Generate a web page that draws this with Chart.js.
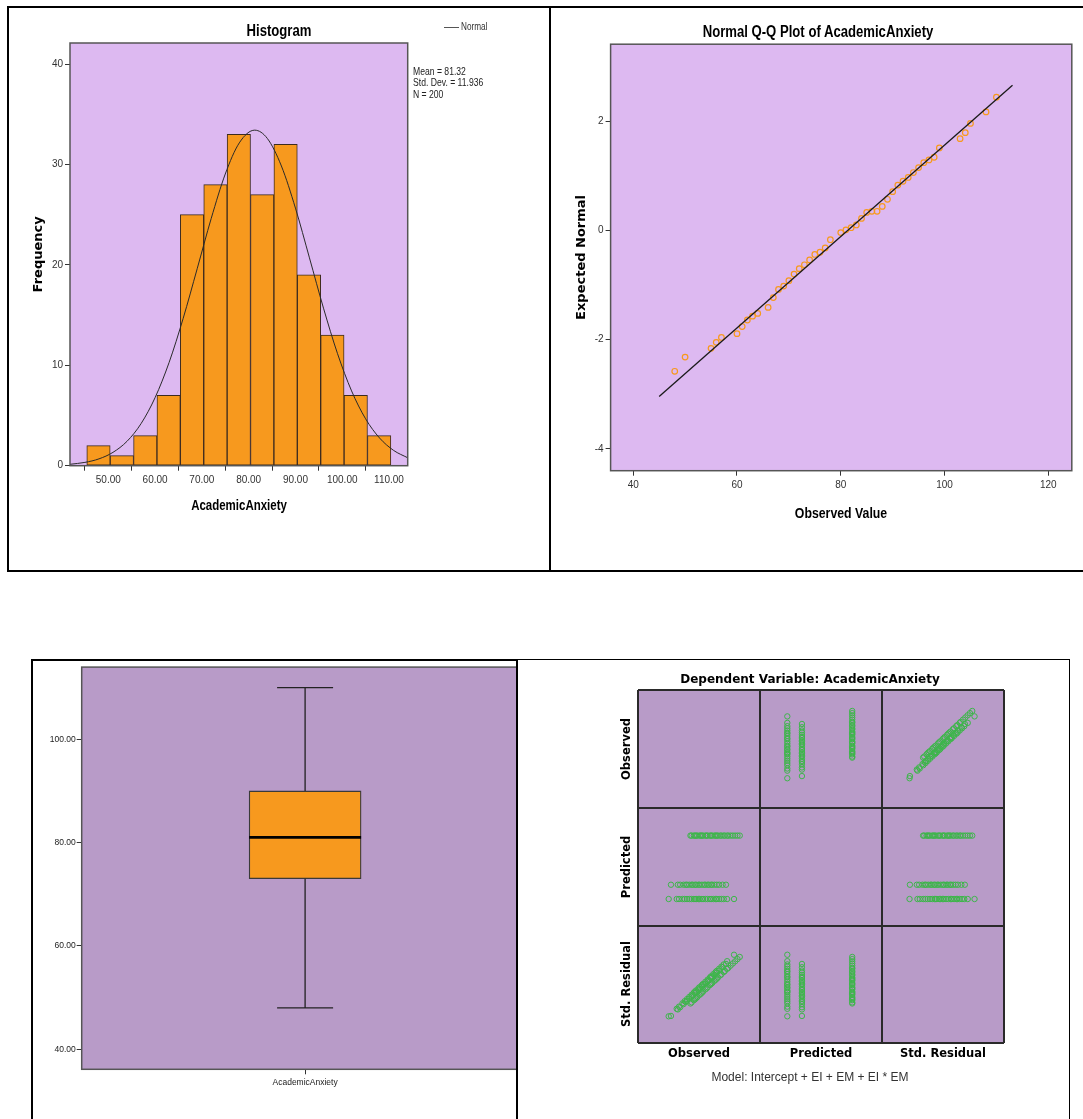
<!DOCTYPE html>
<html>
<head>
<meta charset="utf-8">
<title>AcademicAnxiety</title>
<script src="https://cdn.jsdelivr.net/npm/chart.js@4.4.1/dist/chart.umd.min.js"></script>
<style>
  body { margin: 0; background: #fff; }
  #page { position: relative; width: 1083px; height: 1119px; overflow: hidden; background: #fff; }
  .ln { position: absolute; background: #000; }
  .txt { position: absolute; white-space: nowrap; line-height: 1; color: #000; transform: translate(-50%, -50%); }
  .narrow { font-family: 'Liberation Sans', Arial, sans-serif; transform: translate(-50%, -50%) scaleX(0.82); }
  .dv { font-family: 'DejaVu Sans', sans-serif; font-weight: bold; }
  canvas { position: absolute; }
  .cell { position: absolute; background: #b89bc8; }
</style>
</head>
<body>
<div id="page">
  <!-- frames -->
  <div class="ln" style="left:7px;top:6px;width:1076px;height:2px"></div>
  <div class="ln" style="left:7px;top:6px;width:2px;height:566px"></div>
  <div class="ln" style="left:7px;top:570px;width:1076px;height:2px"></div>
  <div class="ln" style="left:549px;top:6px;width:2px;height:566px"></div>
  <div class="ln" style="left:31px;top:659px;width:485px;height:2px"></div>
  <div class="ln" style="left:31px;top:659px;width:2px;height:460px"></div>

  <!-- histogram -->
  <canvas id="histChart" width="540" height="560" style="left:8px;top:8px"></canvas>
  <div class="txt narrow" style="left:279px;top:31px;font-size:16px;font-weight:bold">Histogram</div>
  <div class="txt narrow" style="left:239px;top:505px;font-size:14px;font-weight:bold">AcademicAnxiety</div>
  <div class="ln" style="left:444px;top:27px;width:15px;height:1px;background:#555"></div>
  <div class="txt" style="left:461px;top:27px;font-size:10px;color:#333;font-family:'Liberation Sans',sans-serif;transform:translate(0,-50%) scaleX(0.82);transform-origin:left center">Normal</div>
  <div style="position:absolute;left:413px;top:66px;font-family:'Liberation Sans',sans-serif;font-size:10.5px;line-height:11.3px;color:#222;white-space:nowrap;transform:scaleX(0.82);transform-origin:left top">Mean = 81.32<br>Std. Dev. = 11.936<br>N = 200</div>

  <!-- Q-Q plot -->
  <canvas id="qqChart" width="530" height="560" style="left:552px;top:8px"></canvas>
  <div class="txt narrow" style="left:818px;top:32px;font-size:16px;font-weight:bold">Normal Q-Q Plot of AcademicAnxiety</div>
  <div class="txt narrow" style="left:841px;top:512px;font-size:15px;font-weight:bold">Observed Value</div>

  <!-- boxplot -->
  <canvas id="boxChart" width="500" height="458" style="left:33px;top:661px"></canvas>

  <!-- scatter matrix panel -->
  <div style="position:absolute;left:516px;top:659px;width:551px;height:470px;background:#fff;border-left:2px solid #000;border-top:1.5px solid #000;border-right:1.5px solid #000"></div>
  <div id="matrix" style="position:absolute;left:638px;top:690px;width:366px;height:353px"></div>
  <div class="txt dv" style="left:810px;top:679px;font-size:12px">Dependent Variable: AcademicAnxiety</div>
  <div class="txt dv" style="left:627px;top:749px;font-size:11.5px;transform:translate(-50%,-50%) rotate(-90deg)">Observed</div>
  <div class="txt dv" style="left:627px;top:867px;font-size:11.5px;transform:translate(-50%,-50%) rotate(-90deg)">Predicted</div>
  <div class="txt dv" style="left:627px;top:984px;font-size:11.5px;transform:translate(-50%,-50%) rotate(-90deg)">Std. Residual</div>
  <div class="txt dv" style="left:699px;top:1054px;font-size:11.5px">Observed</div>
  <div class="txt dv" style="left:821px;top:1054px;font-size:11.5px">Predicted</div>
  <div class="txt dv" style="left:943px;top:1054px;font-size:11.5px">Std. Residual</div>
  <div class="txt" style="left:810px;top:1077px;font-size:12px;font-family:'Liberation Sans',sans-serif;color:#333">Model: Intercept + EI + EM + EI * EM</div>
</div>

<script>
// ---- histogram ----
const binCenters = [47.9, 52.9, 57.9, 62.9, 67.9, 72.9, 77.9, 82.9, 87.9, 92.9, 97.9, 102.9, 107.9];
const binCounts = [2, 1, 3, 7, 25, 28, 33, 27, 32, 19, 13, 7, 3];
const normalX = [41.8, 45, 48, 51, 54, 57, 60, 63, 66, 69, 72, 75, 78, 81.3, 84, 87, 90, 93, 96, 99, 102, 105, 108, 111, 114];
const normalY = [0.14, 0.33, 0.68, 1.33, 2.43, 4.19, 6.78, 10.29, 14.67, 19.62, 24.63, 29.05, 32.15, 33.42, 32.59, 29.85, 25.66, 20.7, 15.69, 11.16, 7.45, 4.67, 2.75, 1.52, 0.79];
const histTicksX = [50, 60, 70, 80, 90, 100, 110];
const histTicksY = [0, 10, 20, 30, 40];

// ---- normal Q-Q ----
const qqObserved = [48, 50, 55, 56, 57, 60, 61, 62, 63, 64, 66, 67, 68, 69, 70, 71, 72, 73, 74, 75, 76, 77, 78, 80, 81, 82, 83, 84, 85, 86, 87, 88, 89, 90, 91, 92, 93, 94, 95, 96, 97, 98, 99, 103, 104, 105, 108, 110];
const qqExpected = [-2.58, -2.32, -2.16, -2.05, -1.96, -1.89, -1.76, -1.64, -1.57, -1.52, -1.41, -1.23, -1.08, -1.02, -0.92, -0.8, -0.7, -0.63, -0.54, -0.44, -0.4, -0.32, -0.17, -0.04, 0.01, 0.05, 0.1, 0.22, 0.33, 0.35, 0.35, 0.44, 0.57, 0.71, 0.83, 0.9, 0.97, 1.06, 1.15, 1.24, 1.29, 1.34, 1.51, 1.68, 1.79, 1.96, 2.17, 2.44];
const qqLineX = [45.0, 113.1];
const qqLineY = [-3.04, 2.66];
const qqTicksX = [40, 60, 80, 100, 120];
const qqTicksY = [-4, -2, 0, 2];

// ---- boxplot ----
const boxLabels = ['AcademicAnxiety'];
const boxMin = [48];
const boxQ1 = [73];
const boxMedian = [81];
const boxQ3 = [90];
const boxMax = [110];
const boxTicksY = [40, 60, 80, 100];

// ---- observed / predicted / residual matrix ----
const matrixVars = ['Observed', 'Predicted', 'Std. Residual'];
const predLevels = [76.5, 78.1, 83.6];
const obsGroup1 = [48, 55, 57, 60, 62, 64, 66, 68, 70, 71, 72, 74, 75, 77, 78, 80, 82, 84, 85, 87, 89, 90, 92, 94, 96, 99, 105];
const resGroup1 = [-2.54, -1.92, -1.74, -1.47, -1.29, -1.12, -0.94, -0.76, -0.58, -0.49, -0.4, -0.22, -0.13, 0.04, 0.13, 0.31, 0.49, 0.67, 0.76, 0.94, 1.12, 1.21, 1.38, 1.56, 1.74, 2.01, 2.54];
const obsGroup2 = [50, 56, 58, 61, 63, 64, 66, 68, 69, 71, 72, 74, 75, 77, 79, 80, 82, 83, 85, 86, 88, 90, 92, 95, 98];
const resGroup2 = [-2.51, -1.97, -1.79, -1.53, -1.35, -1.26, -1.08, -0.9, -0.81, -0.63, -0.54, -0.37, -0.28, -0.1, 0.08, 0.17, 0.35, 0.44, 0.62, 0.71, 0.88, 1.06, 1.24, 1.51, 1.78];
const obsGroup3 = [67, 68, 70, 71, 72, 73, 75, 76, 77, 78, 80, 81, 82, 84, 85, 86, 88, 89, 90, 91, 93, 94, 96, 97, 99, 100, 102, 104, 106, 108, 110];
const resGroup3 = [-1.48, -1.39, -1.21, -1.13, -1.04, -0.95, -0.77, -0.68, -0.59, -0.5, -0.32, -0.23, -0.14, 0.04, 0.13, 0.21, 0.39, 0.48, 0.57, 0.66, 0.84, 0.93, 1.11, 1.2, 1.38, 1.46, 1.64, 1.82, 2.0, 2.18, 2.36];

const SANS = "'Liberation Sans', Arial, sans-serif";
const ORANGE = '#f7991e';
const LAVENDER = '#ddb9f1';
const PURPLE = '#b89bc8';
const GREEN = '#3db54a';

// fills the plot area and draws its frame
const plotFrame = {
  id: 'plotFrame',
  beforeDraw(chart, args, opts) {
    const a = chart.chartArea, ctx = chart.ctx;
    ctx.save();
    ctx.fillStyle = opts.color;
    ctx.fillRect(a.left, a.top, a.right - a.left, a.bottom - a.top);
    ctx.restore();
  },
  afterDraw(chart, args, opts) {
    const a = chart.chartArea, ctx = chart.ctx;
    ctx.save();
    ctx.strokeStyle = opts.border;
    ctx.lineWidth = 1.5;
    ctx.strokeRect(a.left, a.top, a.right - a.left, a.bottom - a.top);
    ctx.restore();
  }
};

function fixWidth(w) { return function (s) { s.width = w; }; }
function fixHeight(h) { return function (s) { s.height = h; }; }
function setTicks(list) { return function (s) { s.ticks = list.map(v => ({ value: v })); }; }

const tickGrid = { drawOnChartArea: false, drawTicks: true, tickLength: 5, color: '#333', lineWidth: 1 };

// ---------- histogram ----------
new Chart(document.getElementById('histChart'), {
  type: 'bar',
  data: {
    datasets: [{
      type: 'line',
      label: 'Normal',
      data: normalX.map((x, i) => ({ x: x, y: normalY[i] })),
      borderColor: '#2a2a2a',
      borderWidth: 1,
      pointRadius: 0,
      cubicInterpolationMode: 'monotone',
      order: 0
    }, {
      label: 'Frequency',
      data: binCenters.map((x, i) => ({ x: x, y: binCounts[i] })),
      backgroundColor: ORANGE,
      borderColor: '#3d2b1f',
      borderWidth: 1,
      borderSkipped: false,
      barPercentage: 1,
      categoryPercentage: 1,
      order: 1
    }]
  },
  options: {
    responsive: false,
    animation: false,
    layout: { padding: { top: 35, right: 140.3, bottom: 50.6, left: 19 } },
    plugins: { legend: { display: false }, tooltip: { enabled: false }, plotFrame: { color: LAVENDER, border: '#555' } },
    scales: {
      x: {
        type: 'linear', min: 41.81, max: 114, offset: false,
        afterFit: fixHeight(51.7), afterBuildTicks: setTicks(histTicksX),
        grid: tickGrid, border: { display: false },
        ticks: { color: '#333', font: { family: SANS, size: 10 }, padding: 4, maxRotation: 0, autoSkip: false, callback: v => v.toFixed(2) }
      },
      y: {
        min: 0, max: 42.1,
        afterFit: fixWidth(43), afterBuildTicks: setTicks(histTicksY),
        grid: tickGrid, border: { display: false },
        ticks: { color: '#333', font: { family: SANS, size: 10 }, padding: 2 },
        title: { display: true, text: 'Frequency', color: '#000', font: { family: 'DejaVu Sans', size: 13, weight: 'bold' } }
      }
    }
  },
  plugins: [plotFrame]
});

// ---------- Q-Q plot ----------
new Chart(document.getElementById('qqChart'), {
  type: 'scatter',
  data: {
    datasets: [{
      type: 'line',
      data: qqLineX.map((x, i) => ({ x: x, y: qqLineY[i] })),
      borderColor: '#1a1a1a',
      borderWidth: 1.3,
      pointRadius: 0
    }, {
      data: qqObserved.map((x, i) => ({ x: x, y: qqExpected[i] })),
      borderColor: ORANGE,
      backgroundColor: 'rgba(0,0,0,0)',
      borderWidth: 1.2,
      pointRadius: 2.8
    }]
  },
  options: {
    responsive: false,
    animation: false,
    layout: { padding: { top: 36.2, right: 10.2, bottom: 42.5, left: 18 } },
    plugins: { legend: { display: false }, tooltip: { enabled: false }, plotFrame: { color: LAVENDER, border: '#555' } },
    scales: {
      x: {
        type: 'linear', min: 35.64, max: 124.53,
        afterFit: fixHeight(54.8), afterBuildTicks: setTicks(qqTicksX),
        grid: tickGrid, border: { display: false },
        ticks: { color: '#333', font: { family: SANS, size: 10 }, padding: 4, maxRotation: 0, autoSkip: false }
      },
      y: {
        min: -4.4, max: 3.41,
        afterFit: fixWidth(40.6), afterBuildTicks: setTicks(qqTicksY),
        grid: tickGrid, border: { display: false },
        ticks: { color: '#333', font: { family: SANS, size: 10 }, padding: 2 },
        title: { display: true, text: 'Expected Normal', color: '#000', font: { family: 'DejaVu Sans', size: 13, weight: 'bold' } }
      }
    }
  },
  plugins: [plotFrame]
});

// ---------- boxplot ----------
const whiskers = {
  id: 'whiskers',
  afterDatasetsDraw(chart) {
    const y = chart.scales.y, ctx = chart.ctx;
    chart.getDatasetMeta(0).data.forEach((bar, i) => {
      const cx = bar.x, half = bar.width / 2, cap = bar.width / 4;
      const yMax = y.getPixelForValue(boxMax[i]), yMin = y.getPixelForValue(boxMin[i]);
      ctx.save();
      ctx.strokeStyle = '#222';
      ctx.lineWidth = 1.3;
      ctx.beginPath();
      ctx.moveTo(cx, yMax); ctx.lineTo(cx, y.getPixelForValue(boxQ3[i]));
      ctx.moveTo(cx, y.getPixelForValue(boxQ1[i])); ctx.lineTo(cx, yMin);
      ctx.moveTo(cx - cap, yMax); ctx.lineTo(cx + cap, yMax);
      ctx.moveTo(cx - cap, yMin); ctx.lineTo(cx + cap, yMin);
      ctx.stroke();
      ctx.strokeStyle = '#000';
      ctx.lineWidth = 2.6;
      ctx.beginPath();
      const ym = y.getPixelForValue(boxMedian[i]);
      ctx.moveTo(cx - half, ym); ctx.lineTo(cx + half, ym);
      ctx.stroke();
      ctx.restore();
    });
  }
};

new Chart(document.getElementById('boxChart'), {
  type: 'bar',
  data: {
    labels: boxLabels,
    datasets: [{
      data: boxLabels.map((l, i) => [boxQ1[i], boxQ3[i]]),
      backgroundColor: ORANGE,
      borderColor: '#3a3a3a',
      borderWidth: 1.3,
      borderSkipped: false,
      barThickness: 112
    }]
  },
  options: {
    responsive: false,
    animation: false,
    layout: { padding: { top: 3, right: 4.5, bottom: 9.7, left: 0 } },
    plugins: { legend: { display: false }, tooltip: { enabled: false }, plotFrame: { color: PURPLE, border: '#555' } },
    scales: {
      x: {
        afterFit: fixHeight(40),
        grid: Object.assign({}, tickGrid, { offset: false }), border: { display: false },
        ticks: { color: '#222', font: { family: SANS, size: 8.5 }, padding: 3, maxRotation: 0 }
      },
      y: {
        min: 36.1, max: 113.97,
        afterFit: fixWidth(48.7), afterBuildTicks: setTicks(boxTicksY),
        grid: tickGrid, border: { display: false },
        ticks: { color: '#222', font: { family: SANS, size: 8.5 }, padding: 1, callback: v => v.toFixed(2) }
      }
    }
  },
  plugins: [plotFrame, whiskers]
});

// ---------- scatter matrix ----------
const groupsObs = [obsGroup1, obsGroup2, obsGroup3];
const groupsRes = [resGroup1, resGroup2, resGroup3];
const matrixRows = [];
groupsObs.forEach((list, g) => list.forEach((o, i) => matrixRows.push([o, predLevels[g], groupsRes[g][i]])));

const rangeX = [[25.6, 123.3], [74.06, 86.31], [-4.3, 4.45]];
const rangeY = [[25.2, 124.7], [74.04, 86.13], [-4.33, 4.5]];
const colEdges = [0, 122, 244, 366];
const rowEdges = [0, 118, 236, 353];
const matrix = document.getElementById('matrix');

for (let r = 0; r < 3; r++) {
  for (let c = 0; c < 3; c++) {
    const cell = document.createElement('div');
    cell.className = 'cell';
    const w = colEdges[c + 1] - colEdges[c], h = rowEdges[r + 1] - rowEdges[r];
    cell.style.left = colEdges[c] + 'px';
    cell.style.top = rowEdges[r] + 'px';
    cell.style.width = w + 'px';
    cell.style.height = h + 'px';
    matrix.appendChild(cell);
    if (r === c) continue;
    const cv = document.createElement('canvas');
    cv.width = w; cv.height = h;
    cv.style.left = '0px'; cv.style.top = '0px';
    cell.appendChild(cv);
    new Chart(cv, {
      type: 'scatter',
      data: {
        datasets: [{
          label: matrixVars[r] + ' vs ' + matrixVars[c],
          data: matrixRows.map(row => ({ x: row[c], y: row[r] })),
          borderColor: GREEN,
          backgroundColor: 'rgba(0,0,0,0)',
          borderWidth: 1,
          pointRadius: 2.7
        }]
      },
      options: {
        responsive: false,
        animation: false,
        layout: { padding: 0 },
        plugins: { legend: { display: false }, tooltip: { enabled: false } },
        scales: {
          x: { type: 'linear', display: false, min: rangeX[c][0], max: rangeX[c][1] },
          y: { type: 'linear', display: false, min: rangeY[r][0], max: rangeY[r][1] }
        }
      }
    });
  }
}

// grid lines of the matrix
[0, 1, 2, 3].forEach(i => {
  const v = document.createElement('div');
  v.className = 'ln';
  v.style.cssText = 'left:' + (colEdges[i] - 0.75) + 'px;top:0;width:1.5px;height:353px;background:#2a2a2a';
  matrix.appendChild(v);
  const hz = document.createElement('div');
  hz.className = 'ln';
  hz.style.cssText = 'left:0;top:' + (rowEdges[i] - 0.75) + 'px;width:366px;height:1.5px;background:#2a2a2a';
  matrix.appendChild(hz);
});
</script>
</body>
</html>
